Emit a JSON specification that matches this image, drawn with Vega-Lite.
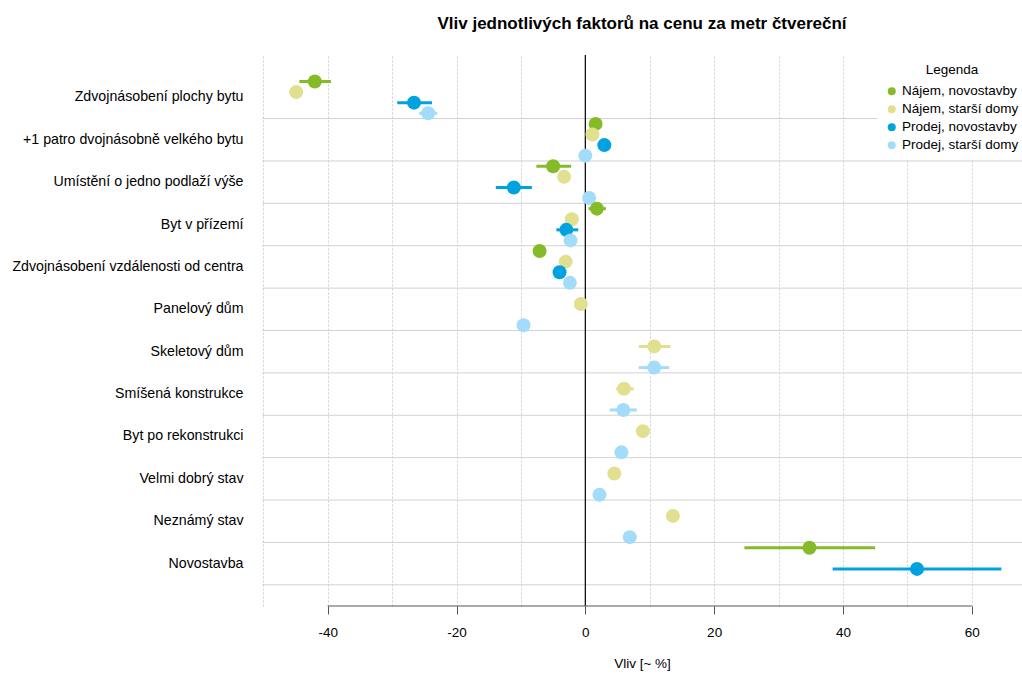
{
  "$schema": "https://vega.github.io/schema/vega-lite/v6.json",
  "width": 760,
  "height": 551,
  "autosize": {"type": "none"},
  "padding": {"left": 262, "top": 55, "right": 0, "bottom": 68},
  "background": "white",
  "title": {"text": "Vliv jednotlivých faktorů na cenu za metr čtvereční", "anchor": "middle", "fontSize": 17, "font": "Liberation Sans", "fontWeight": "bold", "color": "#000", "offset": 21},
  "config": {"view": {"stroke": null}, "font": "Liberation Sans"},
  "datasets": {
    "pts": [
      {"factor": "Zdvojnásobení plochy bytu", "series": "Nájem, novostavby", "value": -42.0, "lo": -44.4, "hi": -39.5},
      {"factor": "Zdvojnásobení plochy bytu", "series": "Nájem, starší domy", "value": -44.9, "lo": null, "hi": null},
      {"factor": "Zdvojnásobení plochy bytu", "series": "Prodej, novostavby", "value": -26.6, "lo": -29.2, "hi": -23.8},
      {"factor": "Zdvojnásobení plochy bytu", "series": "Prodej, starší domy", "value": -24.4, "lo": -25.8, "hi": -23.0},
      {"factor": "+1 patro dvojnásobně velkého bytu", "series": "Nájem, novostavby", "value": 1.6, "lo": null, "hi": null},
      {"factor": "+1 patro dvojnásobně velkého bytu", "series": "Nájem, starší domy", "value": 1.1, "lo": null, "hi": null},
      {"factor": "+1 patro dvojnásobně velkého bytu", "series": "Prodej, novostavby", "value": 2.95, "lo": null, "hi": null},
      {"factor": "+1 patro dvojnásobně velkého bytu", "series": "Prodej, starší domy", "value": 0.0, "lo": null, "hi": null},
      {"factor": "Umístění o jedno podlaží výše", "series": "Nájem, novostavby", "value": -5.0, "lo": -7.6, "hi": -2.2},
      {"factor": "Umístění o jedno podlaží výše", "series": "Nájem, starší domy", "value": -3.3, "lo": null, "hi": null},
      {"factor": "Umístění o jedno podlaží výše", "series": "Prodej, novostavby", "value": -11.1, "lo": -13.9, "hi": -8.3},
      {"factor": "Umístění o jedno podlaží výše", "series": "Prodej, starší domy", "value": 0.6, "lo": null, "hi": null},
      {"factor": "Byt v přízemí", "series": "Nájem, novostavby", "value": 1.8, "lo": 0.5, "hi": 3.2},
      {"factor": "Byt v přízemí", "series": "Nájem, starší domy", "value": -2.1, "lo": null, "hi": null},
      {"factor": "Byt v přízemí", "series": "Prodej, novostavby", "value": -2.95, "lo": -4.5, "hi": -1.1},
      {"factor": "Byt v přízemí", "series": "Prodej, starší domy", "value": -2.3, "lo": null, "hi": null},
      {"factor": "Zdvojnásobení vzdálenosti od centra", "series": "Nájem, novostavby", "value": -7.1, "lo": null, "hi": null},
      {"factor": "Zdvojnásobení vzdálenosti od centra", "series": "Nájem, starší domy", "value": -3.05, "lo": null, "hi": null},
      {"factor": "Zdvojnásobení vzdálenosti od centra", "series": "Prodej, novostavby", "value": -4.0, "lo": null, "hi": null},
      {"factor": "Zdvojnásobení vzdálenosti od centra", "series": "Prodej, starší domy", "value": -2.4, "lo": null, "hi": null},
      {"factor": "Panelový dům", "series": "Nájem, starší domy", "value": -0.7, "lo": null, "hi": null},
      {"factor": "Panelový dům", "series": "Prodej, starší domy", "value": -9.6, "lo": null, "hi": null},
      {"factor": "Skeletový dům", "series": "Nájem, starší domy", "value": 10.7, "lo": 8.3, "hi": 13.2},
      {"factor": "Skeletový dům", "series": "Prodej, starší domy", "value": 10.7, "lo": 8.3, "hi": 13.0},
      {"factor": "Smíšená konstrukce", "series": "Nájem, starší domy", "value": 6.0, "lo": 4.8, "hi": 7.5},
      {"factor": "Smíšená konstrukce", "series": "Prodej, starší domy", "value": 5.9, "lo": 3.8, "hi": 8.0},
      {"factor": "Byt po rekonstrukci", "series": "Nájem, starší domy", "value": 8.95, "lo": null, "hi": null},
      {"factor": "Byt po rekonstrukci", "series": "Prodej, starší domy", "value": 5.6, "lo": null, "hi": null},
      {"factor": "Velmi dobrý stav", "series": "Nájem, starší domy", "value": 4.5, "lo": null, "hi": null},
      {"factor": "Velmi dobrý stav", "series": "Prodej, starší domy", "value": 2.2, "lo": null, "hi": null},
      {"factor": "Neznámý stav", "series": "Nájem, starší domy", "value": 13.6, "lo": null, "hi": null},
      {"factor": "Neznámý stav", "series": "Prodej, starší domy", "value": 6.9, "lo": null, "hi": null},
      {"factor": "Novostavba", "series": "Nájem, novostavby", "value": 34.8, "lo": 24.7, "hi": 45.0},
      {"factor": "Novostavba", "series": "Prodej, novostavby", "value": 51.5, "lo": 38.4, "hi": 64.6}
    ],
    "factors": [
      {"factor": "Zdvojnásobení plochy bytu"},
      {"factor": "+1 patro dvojnásobně velkého bytu"},
      {"factor": "Umístění o jedno podlaží výše"},
      {"factor": "Byt v přízemí"},
      {"factor": "Zdvojnásobení vzdálenosti od centra"},
      {"factor": "Panelový dům"},
      {"factor": "Skeletový dům"},
      {"factor": "Smíšená konstrukce"},
      {"factor": "Byt po rekonstrukci"},
      {"factor": "Velmi dobrý stav"},
      {"factor": "Neznámý stav"},
      {"factor": "Novostavba"}
    ],
    "zero": [{"x": 0}],
    "axisline": [{"from": -40, "to": 60}]
  },
  "layer": [
    {
      "data": {"name": "factors"},
      "mark": {"type": "rule", "color": "#d2d2d2", "strokeWidth": 1},
      "encoding": {
        "y": {"field": "factor", "type": "nominal", "bandPosition": 1,
          "scale": {"type": "band", "paddingInner": 0, "paddingOuter": 0.5, "domain": ["Zdvojnásobení plochy bytu", "+1 patro dvojnásobně velkého bytu", "Umístění o jedno podlaží výše", "Byt v přízemí", "Zdvojnásobení vzdálenosti od centra", "Panelový dům", "Skeletový dům", "Smíšená konstrukce", "Byt po rekonstrukci", "Velmi dobrý stav", "Neznámý stav", "Novostavba"]},
          "axis": {"title": null, "domain": false, "ticks": false, "grid": false, "labelFontSize": 14.2, "labelColor": "#000", "labelPadding": 19, "labelLimit": 300}}
      }
    },
    {
      "data": {"name": "zero"},
      "mark": {"type": "rule", "color": "#000", "strokeWidth": 1.2},
      "encoding": {
        "x": {"field": "x", "type": "quantitative", "title": "Vliv [~ %]", "scale": {"domain": [-50.2, 67.8], "nice": false, "zero": false}}
      }
    },
    {
      "data": {"name": "axisline"},
      "mark": {"type": "rule", "color": "#555", "strokeWidth": 1},
      "encoding": {
        "x": {"field": "from", "type": "quantitative", "title": "Vliv [~ %]", "scale": {"domain": [-50.2, 67.8], "nice": false, "zero": false}},
        "x2": {"field": "to"},
        "y": {"value": "height"}
      }
    },
    {
      "data": {"name": "pts"},
      "transform": [{"filter": "datum.lo != null"}],
      "mark": {"type": "rule", "strokeWidth": 3},
      "encoding": {
        "x": {"field": "lo", "type": "quantitative", "title": "Vliv [~ %]", "scale": {"domain": [-50.2, 67.8], "nice": false, "zero": false}},
        "x2": {"field": "hi"},
        "y": {"field": "factor", "type": "nominal"},
        "yOffset": {"field": "series", "type": "nominal", "scale": {"domain": ["Nájem, novostavby", "Nájem, starší domy", "Prodej, novostavby", "Prodej, starší domy"], "paddingInner": 0, "paddingOuter": 0}},
        "stroke": {"field": "series", "type": "nominal", "legend": null,
          "scale": {"domain": ["Prodej, starší domy", "Prodej, novostavby", "Nájem, starší domy", "Nájem, novostavby"], "range": ["#a3dcfa", "#00a2e0", "#e0e08f", "#85bb28"]}}
      }
    },
    {
      "data": {"name": "pts"},
      "mark": {"type": "point", "filled": true, "shape": "circle", "size": 195, "opacity": 1},
      "encoding": {
        "x": {"field": "value", "type": "quantitative",
          "scale": {"domain": [-50.2, 67.8], "nice": false, "zero": false},
          "axis": {
            "title": "Vliv [~ %]",
            "values": [-50, -45, -40, -35, -30, -25, -20, -15, -10, -5, 0, 5, 10, 15, 20, 25, 30, 35, 40, 45, 50, 55, 60, 65],
            "labelExpr": "(datum.value % 20 === 0 && datum.value >= -40 && datum.value <= 60) ? ('' + datum.value) : ''",
            "tickOpacity": {"condition": {"test": "datum.value % 20 === 0 && datum.value >= -40 && datum.value <= 60", "value": 1}, "value": 0},
            "tickSize": 8, "tickColor": "#555",
            "domain": false,
            "grid": true, "gridDash": [2, 2], "gridColor": "#cfcfcf", "gridWidth": 1,
            "labelFontSize": 13.5, "labelColor": "#000", "labelPadding": 11, "labelFlush": false,
            "titleFontSize": 13.5, "titleFontWeight": "normal", "titleColor": "#000", "titlePadding": 18
          }},
        "y": {"field": "factor", "type": "nominal"},
        "yOffset": {"field": "series", "type": "nominal"},
        "color": {"field": "series", "type": "nominal",
          "scale": {"domain": ["Nájem, novostavby", "Nájem, starší domy", "Prodej, novostavby", "Prodej, starší domy"], "range": ["#85bb28", "#e0e08f", "#00a2e0", "#a3dcfa"]},
          "legend": {"title": "Legenda", "orient": "none", "legendX": 615, "legendY": 0, "fillColor": "white", "padding": 8,
            "titleFontSize": 13.5, "titleFontWeight": "normal", "titleColor": "#000", "titleAnchor": "middle", "titlePadding": 8,
            "labelFontSize": 13.5, "labelColor": "#000", "symbolType": "circle", "symbolSize": 64, "symbolStrokeWidth": 0,
            "rowPadding": 3, "labelOffset": 3.5}}
      }
    }
  ]
}
